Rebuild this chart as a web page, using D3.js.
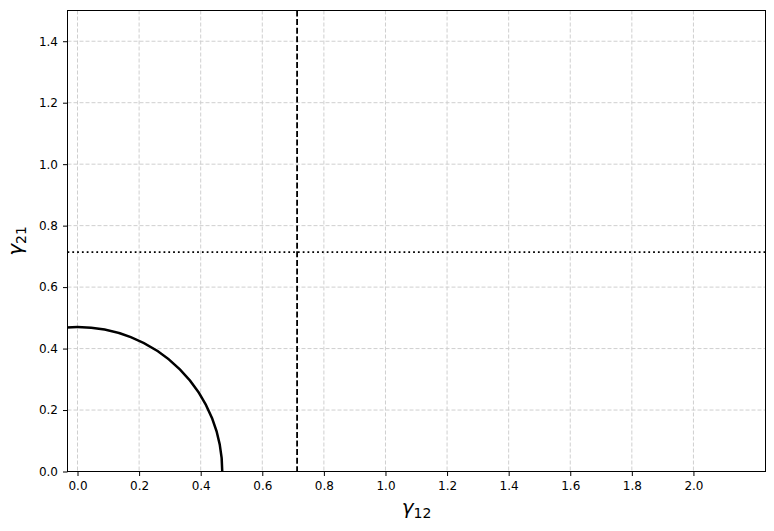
<!DOCTYPE html>
<html><head><meta charset="utf-8">
<script src="https://cdn.jsdelivr.net/npm/d3@7"></script>
<style>body{margin:0;background:#fff;} text{font-family:"DejaVu Sans",sans-serif;}</style>
</head><body>
<svg id="c" width="774" height="531"></svg>
<script>
const xTicks = [0.0,0.2,0.4,0.6,0.8,1.0,1.2,1.4,1.6,1.8,2.0];
const yTicks = [0.0,0.2,0.4,0.6,0.8,1.0,1.2,1.4];
const xDomain = [-0.0325, 2.234];
const yDomain = [0, 1.5];
const circleRadius = [0.47];
const verticalLine = [0.713];
const horizontalLine = [0.714];

const svg = d3.select("#c");
const m = {l:67.5, t:10.5, r:765.5, b:471.5};
const x = d3.scaleLinear().domain(xDomain).range([m.l, m.r]);
const y = d3.scaleLinear().domain(yDomain).range([m.b, m.t]);

svg.append("defs").append("clipPath").attr("id","clip")
  .append("rect").attr("x",m.l).attr("y",m.t).attr("width",m.r-m.l).attr("height",m.b-m.t);

// grid
const g = svg.append("g");
g.selectAll(".gx").data(xTicks).join("line")
  .attr("x1",d=>x(d)).attr("x2",d=>x(d)).attr("y1",m.t).attr("y2",m.b)
  .attr("stroke","#cfcfcf").attr("stroke-width",1).attr("stroke-dasharray","4,2");
g.selectAll(".gy").data(yTicks).join("line")
  .attr("y1",d=>y(d)).attr("y2",d=>y(d)).attr("x1",m.l).attr("x2",m.r)
  .attr("stroke","#cfcfcf").attr("stroke-width",1).attr("stroke-dasharray","4,2");

const p = svg.append("g").attr("clip-path","url(#clip)");
circleRadius.forEach(r=>{
  p.append("ellipse").attr("cx",x(0)).attr("cy",y(0))
   .attr("rx",x(r)-x(0)).attr("ry",y(0)-y(r))
   .attr("fill","none").attr("stroke","#000").attr("stroke-width",2.5);
});
p.selectAll(".vl").data(verticalLine).join("line")
  .attr("x1",d=>x(d)).attr("x2",d=>x(d)).attr("y1",m.t).attr("y2",m.b)
  .attr("stroke","#000").attr("stroke-width",1.8).attr("stroke-dasharray","6,2.6");
p.selectAll(".hl").data(horizontalLine).join("line")
  .attr("y1",d=>y(d)).attr("y2",d=>y(d)).attr("x1",m.l).attr("x2",m.r)
  .attr("stroke","#000").attr("stroke-width",1.8).attr("stroke-dasharray","1.8,3");

// axes
const xa = svg.append("g").attr("transform",`translate(0,${m.b})`)
  .call(d3.axisBottom(x).tickValues(xTicks).tickFormat(d3.format(".1f")).tickSizeOuter(0).tickSize(4.5).tickPadding(5));
const ya = svg.append("g").attr("transform",`translate(${m.l},0)`)
  .call(d3.axisLeft(y).tickValues(yTicks).tickFormat(d3.format(".1f")).tickSizeOuter(0).tickSize(4.5).tickPadding(5));
[xa,ya].forEach(a=>{
  a.select(".domain").remove();
  a.selectAll("text").attr("font-size",12).attr("fill","#000").attr("font-family","DejaVu Sans");
  a.selectAll("line").attr("stroke","#000").attr("stroke-width",1);
});
svg.append("rect").attr("x",m.l).attr("y",m.t).attr("width",m.r-m.l).attr("height",m.b-m.t)
  .attr("fill","none").attr("stroke","#000").attr("stroke-width",1);

// labels
const xl = svg.append("text").attr("x",(m.l+m.r)/2).attr("y",514).attr("text-anchor","middle").attr("font-size",20);
xl.append("tspan").attr("font-style","italic").text("γ");
xl.append("tspan").attr("font-size",14).attr("dy",4).text("12");
const yl = svg.append("text").attr("transform",`translate(22,${(m.t+m.b)/2}) rotate(-90)`).attr("text-anchor","middle").attr("font-size",20);
yl.append("tspan").attr("font-style","italic").text("γ");
yl.append("tspan").attr("font-size",14).attr("dy",4).text("21");
</script>
</body></html>
